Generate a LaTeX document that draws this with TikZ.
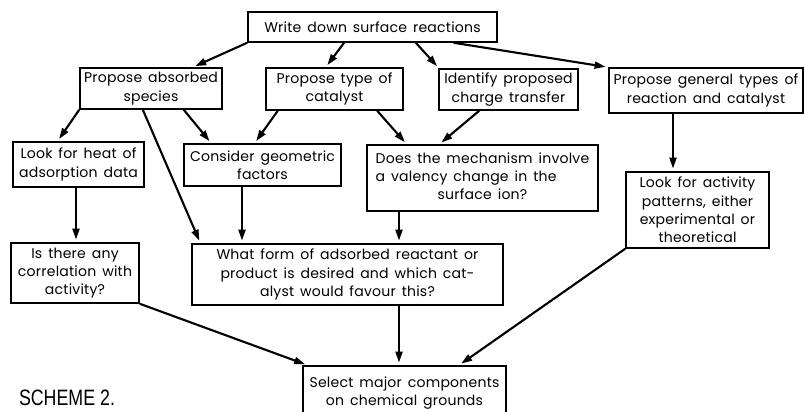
\documentclass[tikz,border=0pt]{standalone}
\usepackage{fontspec}
\setmainfont{Poppins}[WordSpace=1.5, LetterSpace=1.5]
\newfontfamily\schemefont{Liberation Sans}
\usetikzlibrary{positioning,arrows.meta}

\tikzset{
    box/.style={draw, line width=1.3pt, align=center, inner sep=0pt,
        font=\fontsize{12}{15.6}\selectfont},
    arr/.style={-{Triangle[length=3.3mm,width=2.1mm]}, line width=1.8pt,
        shorten >=0.8mm},
}

\begin{document}
\begin{tikzpicture}[on grid]
    \useasboundingbox (0,0) rectangle (241.5mm,-123.6mm);

    \node [box, minimum width=74.7mm, minimum height=9mm] (top) at (111.75mm,-8.1mm) {Write down surface reactions};
    \node [box, minimum width=42.6mm, minimum height=12.3mm, below left=18.45mm and 66.45mm of top] (absorbed) {Propose absorbed\\species};
    \node [box, minimum width=41.1mm, minimum height=12.6mm, below left=18.6mm and 11.4mm of top] (type) {Propose type of\\catalyst};
    \node [box, minimum width=41.7mm, minimum height=12.3mm, below right=18.75mm and 40.8mm of top] (identify) {Identify proposed\\charge transfer};
    \node [box, minimum width=58.2mm, minimum height=13.5mm, below right=19.05mm and 100.05mm of top] (general) {Propose general types of\\reaction and catalyst};
    \node [box, minimum width=39.3mm, minimum height=13.5mm, below left=22.8mm and 21.75mm of absorbed] (heat) {Look for heat of\\adsorption data};
    \node [box, minimum width=47.1mm, minimum height=12.6mm, below left=22.8mm and 21.6mm of type] (geometric) {Consider geometric\\factors};
    \node [box, minimum width=69.3mm, minimum height=19.8mm, below right=26.7mm and 44.4mm of type] (does) {%
        \begin{tabular}{@{}l@{}}Does the mechanism involve\\a valency change in the\\\multicolumn{1}{@{}c@{}}{surface ion?}\end{tabular}};
    \node [box, minimum width=42.9mm, minimum height=22.8mm, below left=35.85mm and 2.55mm of general] (activity) {Look for activity\\patterns, either\\experimental or\\theoretical};
    \node [box, minimum width=38.4mm, minimum height=18mm, below left=32.55mm and 1.05mm of heat] (correlation) {Is there any\\correlation with\\activity?};
    \node [box, minimum width=93.3mm, minimum height=18.3mm, below right=32.85mm and 25.5mm of geometric] (what) {What form of adsorbed reactant or\\product is desired and which cat-\\alyst would favour this?};
    \node [box, minimum width=60.9mm, minimum height=16.2mm, below right=35.55mm and 17.1mm of what] (select) {Select major components\\on chemical grounds};
    \node [font=\schemefont\fontsize{19}{22}\selectfont] (scheme) at (20.1mm,-119.25mm) {\scalebox{0.8}[1]{SCHEME 2.}};

    % first row
    \draw [arr] (top.south west) -- (absorbed.27);
    \draw [arr] (top.209) -- (type.112);
    \draw [arr] (top.340) -- (identify.163);
    \draw [arr] (top.349) -- (general.north west);

    % second row
    \draw [arr] (absorbed.south west) -- (heat.132);
    \draw [arr] (absorbed.327) -- (geometric.157);
    \draw [arr] (absorbed.249) -- (what.168);
    \draw [arr] (type.201) -- (geometric.110);
    \draw [arr] (type.333) -- (does.156);
    \draw [arr] (identify.216) -- (does.142);
    \draw [arr] ([xshift=-9.9mm]general.south) -- ([xshift=-9.9mm]general.south |- activity.north);

    % third row
    \draw [arr] ([xshift=-0.75mm]heat.south) -- ([xshift=-0.75mm]heat.south |- correlation.north);
    \draw [arr] ([xshift=-6.15mm]geometric.south) -- ([xshift=-6.15mm]geometric.south |- what.north);
    \draw [arr] ([xshift=-25.05mm]does.south) -- ([xshift=-25.05mm]does.south |- what.north);

    % to the last box
    \draw [arr] (correlation.south east) -- (select.164);
    \draw [arr] ([xshift=15.45mm]what.south) -- ([xshift=15.45mm]what.south |- select.north);
    \draw [arr] (activity.south west) -- (select.27);
\end{tikzpicture}
\end{document}
